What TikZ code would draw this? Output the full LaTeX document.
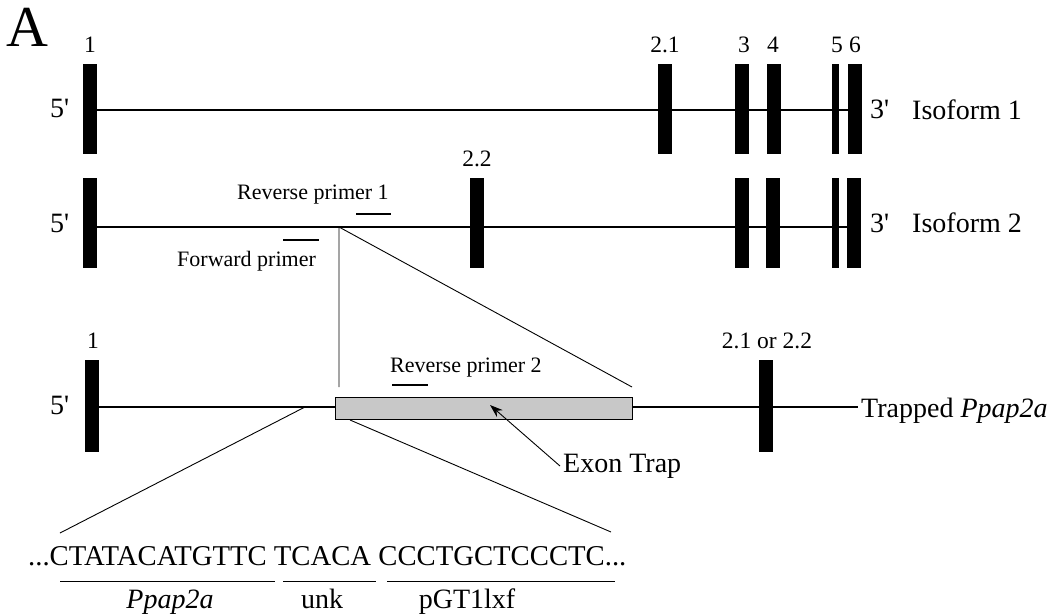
\documentclass[tikz,border=0pt]{standalone}
\usepackage{fontspec}
\setmainfont{Liberation Serif}
\usetikzlibrary{arrows.meta}
\definecolor{trapgray}{HTML}{C8C8C8}
\begin{document}
\begin{tikzpicture}[x=1pt,y=-1pt,
  exon/.style={rectangle,fill=black,inner sep=0pt,minimum width=14pt,minimum height=90pt},
  thinexon/.style={exon,minimum width=7pt},
  intron/.style={line width=1.1pt},
  primer/.style={line width=2.6pt},
  zoomline/.style={line width=0.9pt},
  underl/.style={line width=0.9pt},
  small/.style={font=\fontsize{22}{26}\selectfont,inner sep=0pt,anchor=base west},
  exnum/.style={font=\fontsize{23.5}{27}\selectfont,inner sep=0pt,anchor=base},
  big/.style={font=\fontsize{28}{32}\selectfont,inner sep=0pt,anchor=base west},
  seqtext/.style={font=\fontsize{28.7}{32}\selectfont,inner sep=0pt,anchor=base west},
  trapbox/.style={rectangle,draw=black,line width=0.9pt,fill=trapgray,inner sep=0pt,minimum width=297pt,minimum height=22pt}]
\useasboundingbox (0,0) rectangle (1060,615);

\node[inner sep=0pt,anchor=base west,font=\fontsize{58}{64}\selectfont] (A) at (6,47) {A};

% ---------- Isoform 1 ----------
\coordinate (r1y) at (0,110);
\node[exon] (a1) at (90,109) {};
\node[exon] (a21) at (665,109) {};
\node[exon] (a3) at (742,109) {};
\node[exon] (a4) at (773.5,109) {};
\node[thinexon] (a5) at (835.5,109) {};
\node[exon] (a6) at (854.5,109) {};
\draw[intron] (a1 |- r1y) -- (a6 |- r1y);
\node[exnum] (la1) at (90,53) {1};
\node[exnum] (la21) at (665,53) {2.1};
\node[exnum] (la3) at (744,53) {3};
\node[exnum] (la4) at (773,53) {4};
\node[exnum] (la5) at (837,53) {5};
\node[exnum] (la6) at (855,53) {6};
\node[big] (p5a) at (50,118) {5\textquotesingle};
\node[big] (p3a) at (870,119) {3\textquotesingle};
\node[big] (iso1) at (912,120) {Isoform 1};

% ---------- Isoform 2 ----------
\coordinate (r2y) at (0,227);
\node[exon] (b1) at (90,223) {};
\node[exon] (b22) at (477,223) {};
\node[exon] (b3) at (741.5,223) {};
\node[exon] (b4) at (773,223) {};
\node[thinexon] (b5) at (835,223) {};
\node[exon] (b6) at (853.5,223) {};
\draw[intron] (b1 |- r2y) -- (b6 |- r2y);
\node[exnum] (lb22) at (477,167) {2.2};
\node[big] (p5b) at (50,232) {5\textquotesingle};
\node[big] (p3b) at (870,232) {3\textquotesingle};
\node[big] (iso2) at (912,232) {Isoform 2};

% primers on isoform 2
\node[small] (rp1) at (237,199) {Reverse primer 1};
\coordinate (rp1a) at (356,214);
\coordinate (rp1b) at (391,214);
\draw[primer] (rp1a) -- (rp1b);
\node[small] (fp) at (177,266) {Forward primer};
\coordinate (fpa) at (283,240);
\coordinate (fpb) at (319,240);
\draw[primer] (fpa) -- (fpb);

% expansion triangle
\coordinate (tv) at (339,227);
\coordinate (tl) at (339,387);
\coordinate (tr) at (632,387);
\draw[zoomline] (tl) -- (tv) -- (tr);

% ---------- Trapped allele ----------
\coordinate (r3y) at (0,407);
\node[exon,minimum height=92pt] (c1) at (92,406) {};
\node[exon,minimum height=92pt] (c2) at (766,406) {};
\node[trapbox] (trap) at (483.5,408.5) {};
\coordinate (tend) at (858,407);
\draw[intron] (c1 |- r3y) -- (trap.west |- r3y);
\draw[intron] (trap.east |- r3y) -- (c2 |- r3y) -- (tend);
\node[exnum] (lc1) at (93,348) {1};
\node[exnum] (lc2) at (767,348) {2.1 or 2.2};
\node[big] (p5c) at (50,414) {5\textquotesingle};
\node[big] (trapped) at (861,417) {Trapped \textit{Ppap2a}};

\node[small] (rp2) at (390,372) {Reverse primer 2};
\coordinate (rp2a) at (392,385);
\coordinate (rp2b) at (428,385);
\draw[primer] (rp2a) -- (rp2b);

\node[big,inner sep=3pt,anchor=west] (et) at (560,466) {Exon Trap};
\coordinate (etip) at (490,405);
\draw[zoomline,-{Stealth[length=13pt,width=9pt]}] (et.west) -- (etip);

% ---------- sequence ----------
\coordinate (s1) at (305,407);
\coordinate (s1b) at (60,533);
\coordinate (s2) at (350,420);
\coordinate (s2b) at (611,532);
\draw[zoomline] (s1) -- (s1b);
\draw[zoomline] (s2) -- (s2b);

\node[seqtext] (sq) at (28,565) {...CTATACATGTTC TCACA CCCTGCTCCCTC...};
\coordinate (u1a) at (60,581);  \coordinate (u1b) at (275,581);
\coordinate (u2a) at (283,581); \coordinate (u2b) at (376,581);
\coordinate (u3a) at (387,581); \coordinate (u3b) at (615,581);
\draw[underl] (u1a) -- (u1b);
\draw[underl] (u2a) -- (u2b);
\draw[underl] (u3a) -- (u3b);
\node[big,anchor=base] (lpp) at (170,608) {\textit{Ppap2a}};
\node[big,anchor=base] (lunk) at (322,608) {unk};
\node[big,anchor=base] (lpgt) at (467,608) {pGT1lxf};
\end{tikzpicture}
\end{document}
